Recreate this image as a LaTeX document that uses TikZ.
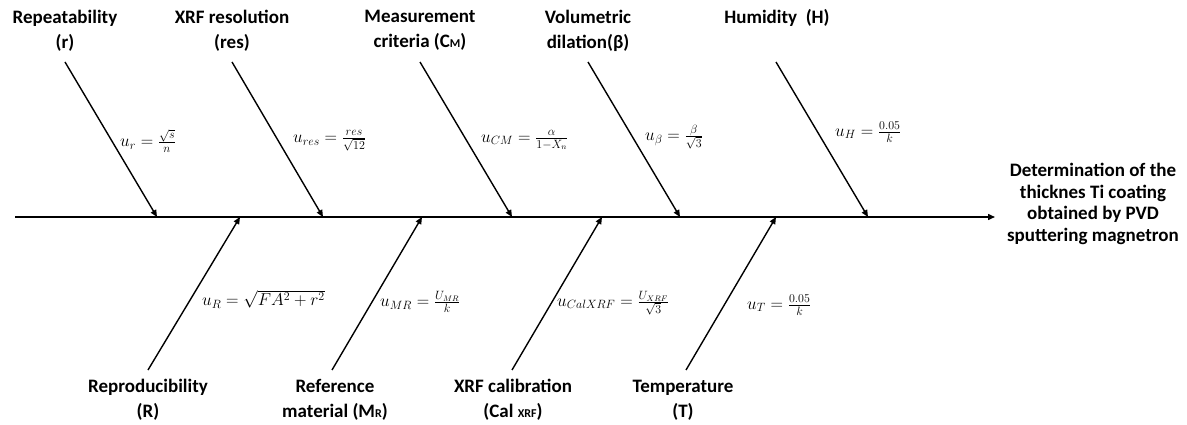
\documentclass[tikz,border=0pt]{standalone}
\usepackage{fontspec}
\setmainfont{Carlito}
\usetikzlibrary{arrows.meta}
\begin{document}
\begin{tikzpicture}[x=1pt,y=-1pt,
  bone/.style={line width=1.4pt,-{Triangle[length=7pt,width=6pt]}},
  lab/.style={font=\fontsize{19}{25}\selectfont\bfseries,align=center,inner sep=0pt},
  eq/.style={font=\fontsize{17}{19}\selectfont,inner sep=0pt,anchor=west}]
\useasboundingbox (0,0) rectangle (1187,425);
% spine
\coordinate (s0) at (15,217);
\coordinate (s1) at (995,217);
\draw[bone] (s0) -- (s1);
% top bone ends
\coordinate (rt) at (65,62);   \coordinate (rb) at (157,217);
\coordinate (rest) at (232,62); \coordinate (resb) at (323,217);
\coordinate (cmt) at (420,62); \coordinate (cmb) at (512,217);
\coordinate (bt) at (588,62);  \coordinate (bb) at (680,217);
\coordinate (ht) at (776,62);  \coordinate (hb) at (868,217);
\draw[bone] (rt) -- (rb);
\draw[bone] (rest) -- (resb);
\draw[bone] (cmt) -- (cmb);
\draw[bone] (bt) -- (bb);
\draw[bone] (ht) -- (hb);
% bottom bone ends
\coordinate (Rb) at (148,370); \coordinate (Rt) at (240,217);
\coordinate (mrb) at (332,370); \coordinate (mrt) at (422,217);
\coordinate (cb) at (512,370); \coordinate (ct) at (602,217);
\coordinate (tb) at (686,370); \coordinate (tt) at (776,217);
\draw[bone] (Rb) -- (Rt);
\draw[bone] (mrb) -- (mrt);
\draw[bone] (cb) -- (ct);
\draw[bone] (tb) -- (tt);
% top labels
\node[lab] (lr) at (65,30.5) {Repeatability\\(r)};
\node[lab] (lres) at (232,30.5) {XRF resolution\\(res)};
\node[lab] (lcm) at (420,30.5) {Measurement\\criteria (C{\fontsize{12}{14}\selectfont M})};
\node[lab] (lb) at (588,30.5) {Volumetric\\dilation(β)};
\node[lab] (lh) at (777,18) {Humidity\ \ (H)};
% bottom labels
\node[lab] (lR) at (148,400) {Reproducibility\\(R)};
\node[lab] (lmr) at (335,400) {Reference\\material (M{\fontsize{12}{14}\selectfont R})};
\node[lab] (lc) at (513,400) {XRF calibration\\(Cal {\fontsize{12}{14}\selectfont XRF})};
\node[lab] (lt) at (683,400) {Temperature\\(T)};
% effect
\node[lab,font=\fontsize{19}{21.5}\selectfont\bfseries] (eff) at (1093,204) {Determination of the\\thicknes Ti coating\\obtained by PVD\\sputtering magnetron};
% equations
\node[eq] (er) at (120,141) {$u_r=\frac{\sqrt{s}}{n}$};
\node[eq] (eres) at (293,141) {$u_{res}=\frac{res}{\sqrt{12}}$};
\node[eq] (ecm) at (481,140) {$u_{CM}=\frac{\alpha}{1-X_n}$};
\node[eq] (eb) at (645,137) {$u_{\beta}=\frac{\beta}{\sqrt{3}}$};
\node[eq] (eh) at (835,132) {$u_H=\frac{0.05}{k}$};
\node[eq] (eR) at (202,299) {$u_R=\sqrt{FA^2+r^2}$};
\node[eq] (emr) at (380,302) {$u_{MR}=\frac{U_{MR}}{k}$};
\node[eq] (ec) at (557,303) {$u_{CalXRF}=\frac{U_{XRF}}{\sqrt{3}}$};
\node[eq] (et) at (747,305) {$u_T=\frac{0.05}{k}$};
\end{tikzpicture}
\end{document}
